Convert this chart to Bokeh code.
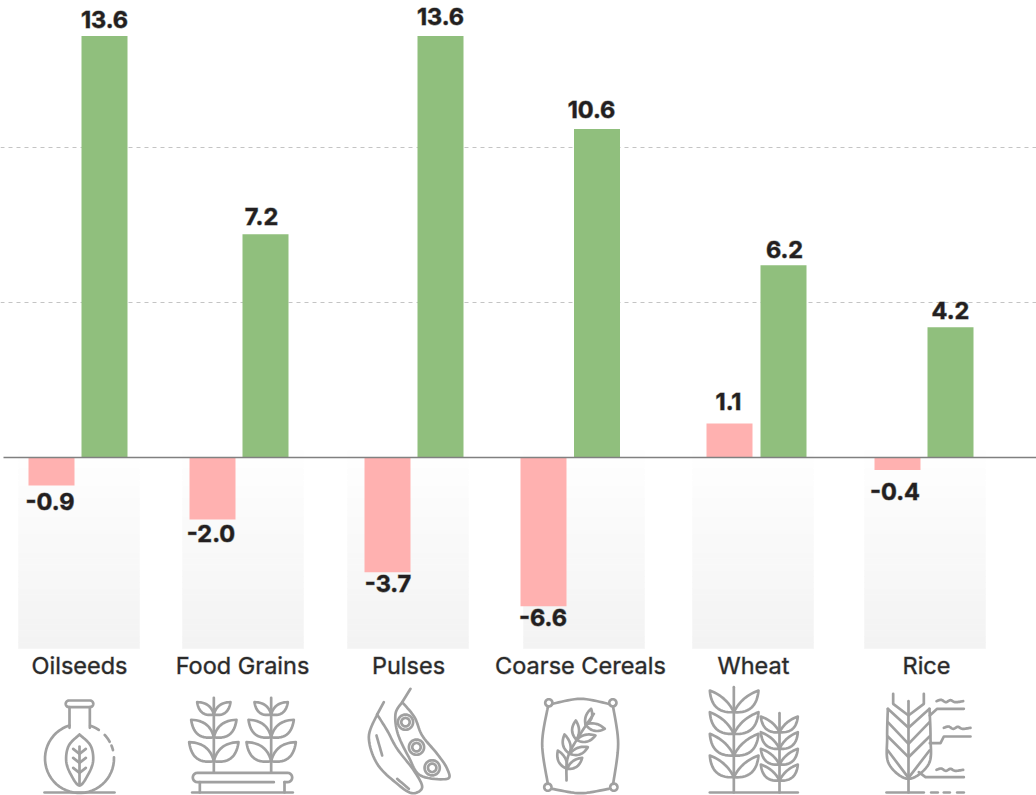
import math
from bokeh.plotting import figure
from bokeh.models import Range1d, FixedTicker
from bokeh.core.properties import value
from bokeh.embed import file_html
from bokeh.resources import INLINE

# ---------- data ----------
categories = ["Oilseeds", "Food Grains", "Pulses", "Coarse Cereals", "Wheat", "Rice"]
series_a_labels = ["-0.9", "-2.0", "-3.7", "-6.6", "1.1", "-0.4"]
series_a_heights = [-0.9, -2.0, -3.7, -4.8, 1.1, -0.4]   # fourth bar is drawn shorter than its label in the source
series_b_values = [13.6, 7.2, 13.6, 10.6, 6.2, 4.2]
series_b_labels = ["13.6", "7.2", "13.6", "10.6", "6.2", "4.2"]
gridline_values = [5, 10]

# ---------- layout (pixels) ----------
W, H = 1036, 795
ZERO_PX, PX_PER_UNIT = 457.0, 31.0
a_centers = [51, 212, 387, 543, 729, 897]
b_centers = [104, 265, 440, 596.5, 783, 950]
bg_lefts = [18, 182, 347, 523, 692, 864]
cat_centers = [79, 242, 408, 580, 753, 926]
a_label_x = [49.5, 210.5, 387.5, 542.5, 728, 894.5]
a_label_y = [501, 533, 583, 617, 401, 491]
b_label_x = [104, 261, 440, 591, 784, 950]
b_label_y = [19, 216, 16, 109, 249, 310]

PINK, GREEN = "#ffb1b0", "#90bf7d"
INK, ICON = "#231f20", "#a0a0a0"

p = figure(width=W, height=H, output_backend="svg", toolbar_location=None,
           x_range=Range1d(0, W),
           y_range=Range1d((ZERO_PX - H) / PX_PER_UNIT, ZERO_PX / PX_PER_UNIT),
           min_border=0, outline_line_color=None, background_fill_color="white")
p.extra_y_ranges = {"px": Range1d(H, 0)}
p.xaxis.visible = False
p.yaxis.visible = False
p.xgrid.visible = False
p.ygrid.ticker = FixedTicker(ticks=gridline_values)
p.ygrid.bounds = (3, W)
p.ygrid.grid_line_color = "#c4c4c4"
p.ygrid.grid_line_dash = "4 4"
p.ygrid.grid_line_width = 1

# ---------- fading panels ----------
def mix(t):
    v = round(255 + (243 - 255) * t)
    return "#%02x%02x%02x" % (v, v, v)

steps = list(range(438, 648, 6))
for left in bg_lefts:
    p.quad(left=[left] * len(steps), right=[left + 121] * len(steps),
           top=steps, bottom=[min(s + 6, 648) for s in steps],
           y_range_name="px",
           fill_color=[mix((s - 438) / 204) for s in steps],
           line_color=[mix((s - 438) / 204) for s in steps], line_width=0.5)

# ---------- bars ----------
p.vbar(x=a_centers, width=46, bottom=0, top=series_a_heights, fill_color=PINK, line_color=None)
p.vbar(x=b_centers, width=46, bottom=0, top=series_b_values, fill_color=GREEN, line_color=None)
p.segment(x0=[3], x1=[W], y0=[0], y1=[0], line_color="#808080", line_width=1.3)

# ---------- texts ----------
for xs, ys, txt in ((a_label_x, a_label_y, series_a_labels), (b_label_x, b_label_y, series_b_labels)):
    p.text(x=xs, y=ys, text=txt, y_range_name="px", text_align="center", text_baseline="middle",
           text_font=value("Inter"), text_font_style="bold", text_font_size="23.5px", text_color=INK,
           text_outline_color="#231f2088")
p.text(x=cat_centers, y=[665] * 6, text=categories, y_range_name="px", text_align="center",
       text_baseline="middle", text_font=value("Inter"), text_font_size="23.5px", text_color="#2a2a2a",
       text_outline_color="#2a2a2a66")

# ---------- icons: outlines are sketched in zoomed coordinates (3x), offset by crop origin ----------
lines = []

def Z(off, pts):
    return [(off + a / 3, 640 + b / 3) for a, b in pts]

def smooth(pts, closed=False, n=10):
    if closed:
        seq = [pts[-1]] + pts + pts[:2]
    else:
        seq = [pts[0]] + pts + [pts[-1]]
    out = []
    for i in range(1, len(seq) - 2):
        p0, p1, p2, p3 = seq[i - 1], seq[i], seq[i + 1], seq[i + 2]
        for k in range(n):
            t = k / n
            out.append(tuple(
                0.5 * (2 * p1[d] + (p2[d] - p0[d]) * t
                       + (2 * p0[d] - 5 * p1[d] + 4 * p2[d] - p3[d]) * t * t
                       + (3 * p1[d] - p0[d] - 3 * p2[d] + p3[d]) * t ** 3)
                for d in (0, 1)))
    out.append(seq[-2])
    return out

def add(pts):
    lines.append(pts)

def line(off, pts):
    add(Z(off, pts))

def curve(off, pts, closed=False):
    add(smooth(Z(off, pts), closed))

def arc_pts(cx, cy, r, a0, a1, n=40):
    return [(cx + r * math.cos(math.radians(a0 + (a1 - a0) * i / n)),
             cy + r * math.sin(math.radians(a0 + (a1 - a0) * i / n))) for i in range(n + 1)]

def arc(cx, cy, r, a0, a1, n=40):
    add(arc_pts(cx, cy, r, a0, a1, n))

def quad_curve(a, c, b, n=14):
    return [((1 - t) ** 2 * a[0] + 2 * t * (1 - t) * c[0] + t * t * b[0],
             (1 - t) ** 2 * a[1] + 2 * t * (1 - t) * c[1] + t * t * b[1])
            for t in [i / n for i in range(n + 1)]]

def leaf(off, base, tip, out=0.52, inn=0.38):
    """Lens-shaped leaf from stem point to tip."""
    dx, dy = tip[0] - base[0], tip[1] - base[1]
    s = 1 if dx > 0 else -1
    nx, ny = -dy * s, dx * s
    mx, my = base[0] + dx * 0.48, base[1] + dy * 0.48
    c1 = (mx + nx * out, my + ny * out)
    c2 = (mx - nx * inn, my - ny * inn)
    a = quad_curve(base, c1, tip)
    b = quad_curve(tip, c2, base)
    add(Z(off, a + b[1:]))

# Oilseeds
line(0, [(132, 456), (342, 456)])
add(arc_pts(68.5, 703.3, 3.3, 90, 270, 10) + arc_pts(89.5, 703.3, 3.3, -90, 90, 10) + [(68.5, 706.6)])
line(0, [(207, 200), (207, 262)])
line(0, [(268, 200), (268, 262)])
arc(79, 758, 34.5, 253, -2)
arc(79, 758, 34.5, -72, -56)
arc(79, 758, 34.5, -43, -29)
arc(79, 758, 34.5, -22, -14)
curve(0, [(237, 282), (205, 315), (197, 360), (210, 400), (237, 435), (264, 400), (278, 360), (270, 315), (237, 282)])
line(0, [(237, 318), (237, 435)])
for y in (325, 352, 382):
    line(0, [(218, y), (237, y + 15), (256, y)])

# Food Grains
for sx in (640, 812):
    line(0, [(sx, 172), (sx, 395)])
    for by, ty, d in ((222, 185, 50), (290, 238, 68), (362, 305, 74)):
        leaf(0, (sx, by), (sx - d, ty))
        leaf(0, (sx, by), (sx + d, ty))
add(Z(0, [(820, 425), (591, 425)]) + arc_pts(197, 777, 4.7, 90, 270, 10)
    + arc_pts(287, 777, 4.7, -90, 90, 10) + Z(0, [(852, 425)]))
line(0, [(598, 425), (598, 456)])
line(0, [(852, 425), (852, 456)])
line(0, [(575, 456), (877, 456)])

# Pulses
line(340, [(130, 185), (110, 222)])
curve(340, [(110, 222), (85, 290), (110, 370), (170, 430), (215, 458), (245, 440), (220, 390), (170, 325), (140, 270), (110, 222)])
curve(340, [(108, 285), (125, 345)])
curve(340, [(170, 415), (205, 445)])
line(340, [(210, 145), (185, 185)])
curve(340, [(185, 185), (165, 220), (172, 280), (205, 350), (240, 405), (320, 415), (320, 385), (290, 340), (245, 285), (222, 230), (185, 185)])
for cx, cy in ((195, 245), (228, 320), (275, 382)):
    a, b = Z(340, [(cx, cy)])[0]
    arc(a, b, 7.6, 0, 360)
    arc(a, b, 4.2, 0, 360)

# Coarse Cereals
curve(340, [(635, 190), (720, 175), (805, 190)])
curve(340, [(622, 200), (605, 310), (622, 430)])
curve(340, [(818, 200), (833, 310), (818, 430)])
curve(340, [(635, 445), (720, 458), (805, 445)])
for cx, cy in ((625, 187), (817, 187), (622, 440), (820, 440)):
    a, b = Z(340, [(cx, cy)])[0]
    arc(a, b, 3.6, 0, 360)
curve(340, [(678, 420), (682, 350), (720, 280), (760, 220)])
for base, t1, t2 in (((680, 385), (652, 330), (725, 352)),
                     ((688, 340), (672, 282), (742, 320)),
                     ((708, 298), (706, 240), (765, 285)),
                     ((735, 252), (752, 205), (793, 265))):
    leaf(340, base, t1, 0.42, 0.30)
    leaf(340, base, t2, 0.42, 0.30)

# Wheat
line(680, [(88, 456), (352, 456)])
line(680, [(160, 140), (160, 456)])
for by, ty in ((215, 150), (280, 215), (345, 280), (410, 345)):
    leaf(680, (160, by), (88, ty), 0.50, 0.20)
    leaf(680, (160, by), (234, ty), 0.50, 0.20)
line(680, [(297, 218), (297, 456)])
for by, ty in ((275, 228), (325, 275), (372, 325), (420, 372)):
    leaf(680, (297, by), (241, ty), 0.50, 0.20)
    leaf(680, (297, by), (352, ty), 0.50, 0.20)

# Rice
line(680, [(618, 456), (730, 456)])
for a, b in ((752, 772), (790, 808), (830, 850)):
    line(680, [(a, 456), (b, 456)])
line(680, [(684, 182), (684, 456)])
line(680, [(638, 160), (638, 190), (684, 225), (730, 190), (730, 160)])
for ty, by in ((205, 262), (245, 310), (288, 350), (330, 412)):
    line(680, [(622, ty), (684, by), (747, ty)])
curve(680, [(622, 205), (620, 290), (625, 370), (684, 415), (745, 370), (750, 290), (747, 205)])
line(680, [(748, 225), (770, 205), (850, 205)])
line(680, [(748, 308), (780, 308), (790, 288), (870, 288)])
line(680, [(715, 395), (735, 410), (850, 410)])
for x0, y0 in ((768, 182), (790, 262), (768, 388)):
    curve(680, [(x0, y0), (x0 + 14, y0 - 4), (x0 + 28, y0 + 3), (x0 + 42, y0 - 3), (x0 + 56, y0 + 3), (x0 + 80, y0)])

p.multi_line(xs=[[a for a, _ in l] for l in lines], ys=[[b for _, b in l] for l in lines],
             y_range_name="px", line_color=ICON, line_width=2.7, line_join="round", line_cap="round")

open("out.html", "w").write(file_html(p, INLINE))
